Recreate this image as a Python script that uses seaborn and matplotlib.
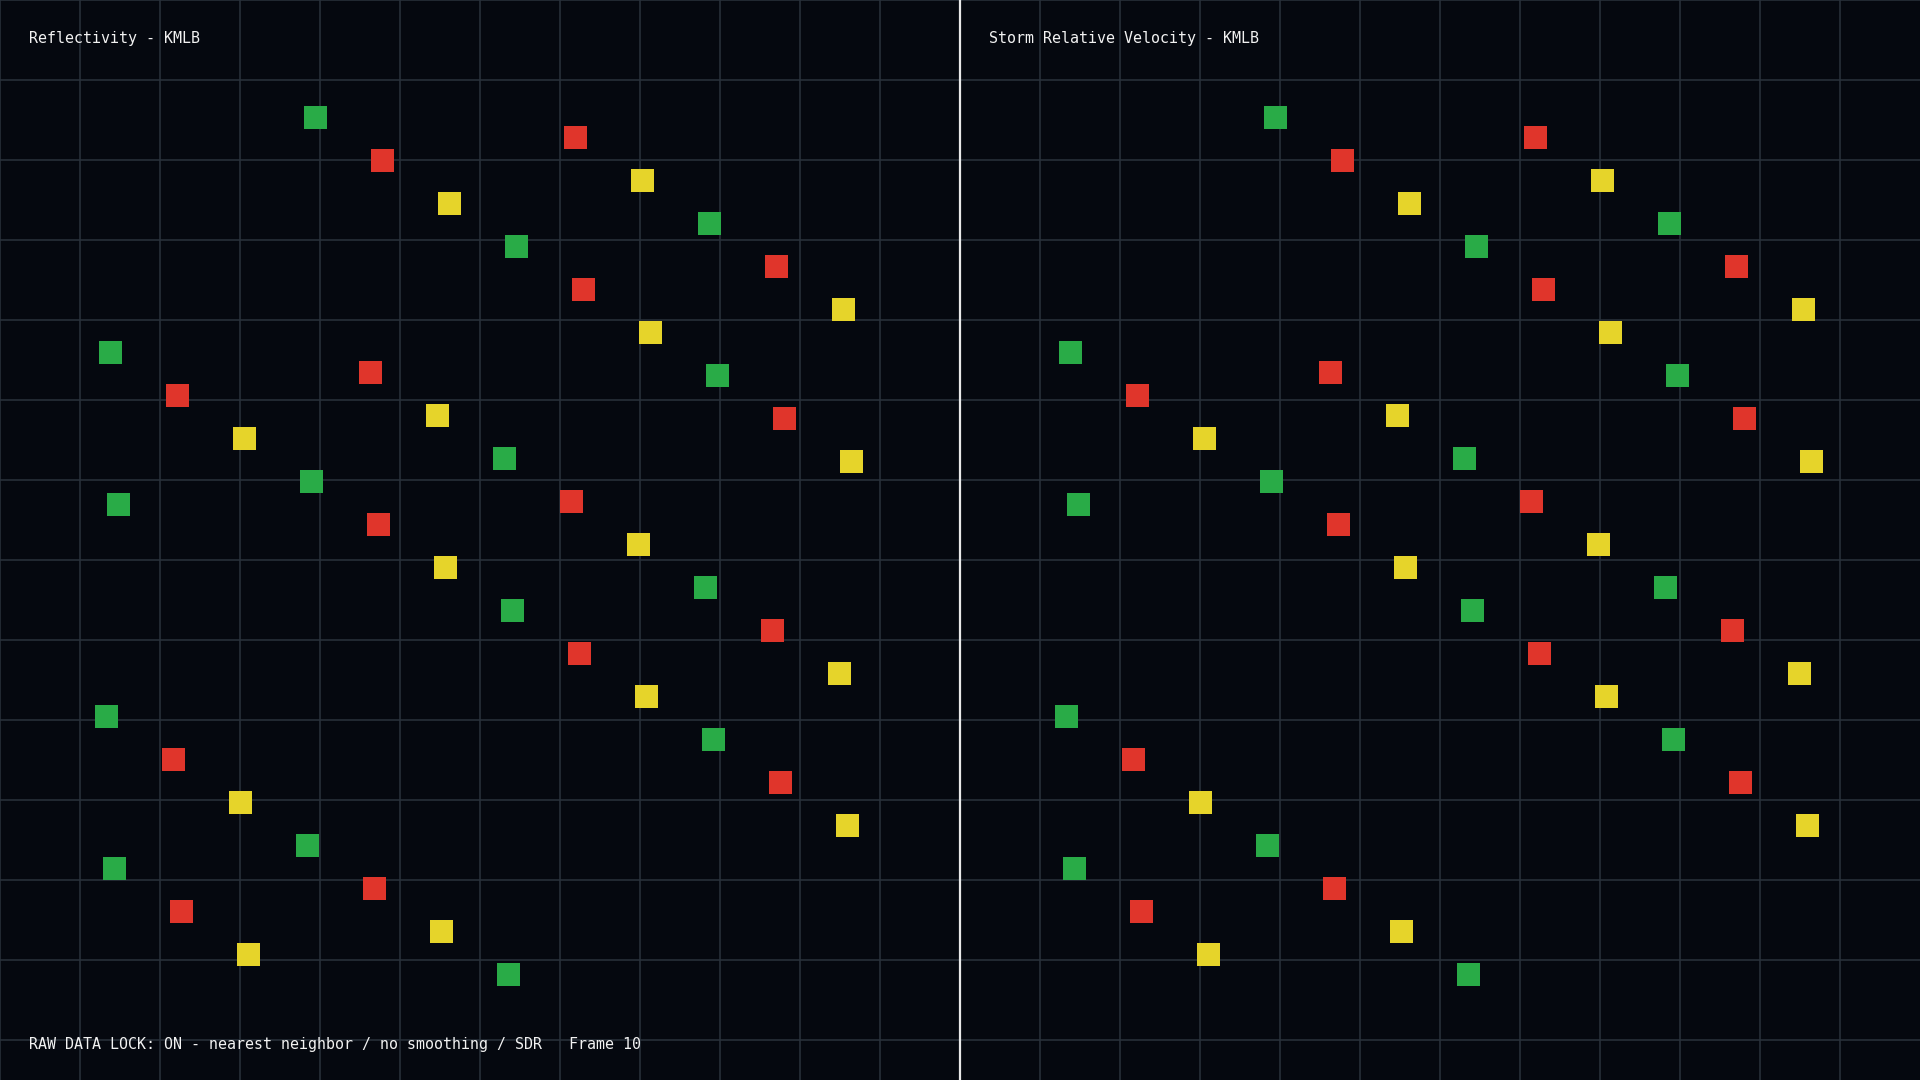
import matplotlib
matplotlib.use("Agg")
import matplotlib.pyplot as plt
import numpy as np
import pandas as pd
import seaborn as sns

# panel titles and footer
panel_titles = ["Reflectivity - KMLB", "Storm Relative Velocity - KMLB"]
footer_text = "RAW DATA LOCK: ON - nearest neighbor / no smoothing / SDR   Frame 10"

# square cells, in panel pixel units (0..960 across, 0..1080 down)
cell_x = [
    315.5, 382.5, 449.5, 516.5, 583.5, 650.5, 717.5, 784.5, 851.5,
    575.5, 642.5, 709.5, 776.5, 843.5,
    110.5, 177.5, 244.5, 311.5, 378.5, 445.5, 512.5, 579.5, 646.5, 713.5, 780.5, 847.5,
    370.5, 437.5, 504.5, 571.5, 638.5, 705.5, 772.5, 839.5,
    118.5,
    106.5, 173.5, 240.5, 307.5, 374.5, 441.5, 508.5,
    114.5, 181.5, 248.5,
]
cell_y = [
    117.5, 160.5, 203.5, 246.5, 289.5, 332.5, 375.5, 418.5, 461.5,
    137.5, 180.5, 223.5, 266.5, 309.5,
    352.5, 395.5, 438.5, 481.5, 524.5, 567.5, 610.5, 653.5, 696.5, 739.5, 782.5, 825.5,
    372.5, 415.5, 458.5, 501.5, 544.5, 587.5, 630.5, 673.5,
    504.5,
    716.5, 759.5, 802.5, 845.5, 888.5, 931.5, 974.5,
    868.5, 911.5, 954.5,
]
cell_kind = [
    "G", "R", "Y", "G", "R", "Y", "G", "R", "Y",
    "R", "Y", "G", "R", "Y",
    "G", "R", "Y", "G", "R", "Y", "G", "R", "Y", "G", "R", "Y",
    "R", "Y", "G", "R", "Y", "G", "R", "Y",
    "G",
    "G", "R", "Y", "G", "R", "Y", "G",
    "G", "R", "Y",
]

palette = {"G": "#29ab47", "R": "#e0352b", "Y": "#e6d42a"}
bg = "#05080f"
grid_col = "#2a323c"

df = pd.DataFrame({"x": cell_x, "y": cell_y, "kind": cell_kind})

sns.set_theme(style="dark", rc={"axes.facecolor": bg, "figure.facecolor": bg})
plt.rcParams["font.family"] = ["DejaVu Sans Mono", "DejaVu Sans"]

fig = plt.figure(figsize=(19.2, 10.8), dpi=100)
fig.patch.set_facecolor(bg)

axes = [fig.add_axes([0.0, 0.0, 0.5, 1.0]), fig.add_axes([0.5, 0.0, 0.5, 1.0])]

for i, ax in enumerate(axes):
    ax.set_facecolor(bg)
    sns.scatterplot(data=df, x="x", y="y", hue="kind", palette=palette,
                    marker="s", s=274, linewidth=0, legend=False, ax=ax, zorder=3)
    ax.set_xlim(0, 960)
    ax.set_ylim(1080, 0)
    ax.set_xticks(np.arange(0, 960, 80))
    ax.set_yticks(np.arange(0, 1080, 80))
    ax.grid(True, color=grid_col, linewidth=1.1)
    ax.set_axisbelow(True)
    ax.tick_params(length=0, labelbottom=False, labelleft=False)
    ax.set_xlabel("")
    ax.set_ylabel("")
    for sp in ax.spines.values():
        sp.set_visible(False)
    ax.text(29, 43, panel_titles[i], color="#f2f2f2", fontsize=10.8,
            ha="left", va="baseline", zorder=5)

# divider between the two panels
axes[1].axvline(0, color="#e8e8e8", linewidth=1.6, zorder=6, clip_on=False)

axes[0].text(29, 1049, footer_text, color="#f2f2f2", fontsize=10.8,
             ha="left", va="baseline", zorder=5)

fig.savefig("out.png", dpi=100, facecolor=bg)
